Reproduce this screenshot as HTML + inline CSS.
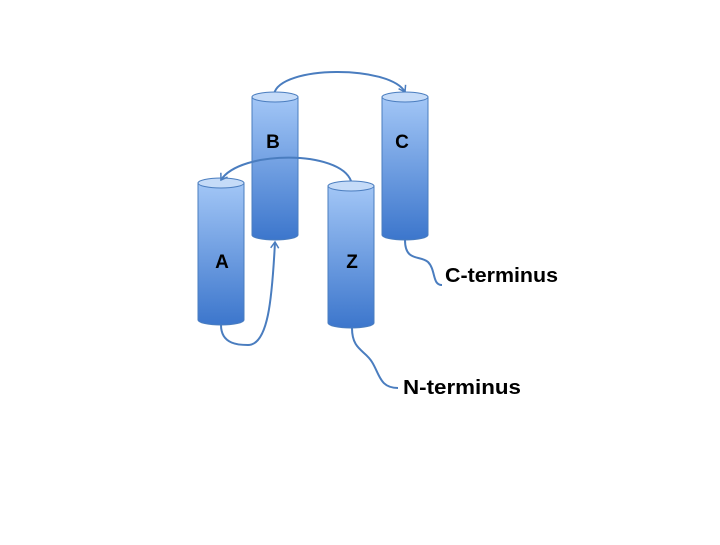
<!DOCTYPE html>
<html><head><style>body{margin:0;background:#fff}</style></head><body>
<svg width="720" height="540" xmlns="http://www.w3.org/2000/svg" font-family="Liberation Sans, sans-serif">
<defs>
<linearGradient id="g" x1="0" y1="0" x2="0" y2="1"><stop offset="0" stop-color="#a2c6f6"/><stop offset="1" stop-color="#3c76cc"/></linearGradient>
<marker id="ar" markerWidth="10" markerHeight="10" refX="8" refY="5" orient="auto" markerUnits="userSpaceOnUse"><path d="M2,1 L8,5 L2,9" fill="none" stroke="#4a7dbf" stroke-width="1.5"/></marker>
</defs>
<g fill="none" stroke="#4a7dbf" stroke-width="2">
<path d="M405,240 C405,262 420,255 428,262 C436,270 432,285 442,285"/>
<path d="M352,328 C352,350 365,350 372,362 C380,375 380,388 398,388"/>
<path d="M221,325 C221,345 240,345 248,345 C268,345 272,300 275,242" marker-end="url(#ar)"/>
<path d="M274,94 C280,65 390,65 405,92" marker-end="url(#ar)"/>
</g>
<g stroke="#4a7dbf" stroke-width="1">
<path d="M198,183 V320 A23,5 0 0 0 244,320 V183 Z" fill="url(#g)"/>
<ellipse cx="221" cy="183" rx="23" ry="5" fill="#c5dbf8"/>
<path d="M252,97 V235 A23,5 0 0 0 298,235 V97 Z" fill="url(#g)"/>
<ellipse cx="275" cy="97" rx="23" ry="5" fill="#c5dbf8"/>
<path d="M382,97 V235 A23,5 0 0 0 428,235 V97 Z" fill="url(#g)"/>
<ellipse cx="405" cy="97" rx="23" ry="5" fill="#c5dbf8"/>
<path d="M328,186 V323 A23,5 0 0 0 374,323 V186 Z" fill="url(#g)"/>
<ellipse cx="351" cy="186" rx="23" ry="5" fill="#c5dbf8"/>
</g>
<path d="M351,181 C340,150 240,150 221,180" fill="none" stroke="#4a7dbf" stroke-width="2" marker-end="url(#ar)"/>
<g font-weight="bold" font-size="19" fill="#000" text-anchor="middle">
<text x="273" y="148">B</text><text x="402" y="148">C</text>
<text x="222" y="268">A</text><text x="352" y="268">Z</text>
</g>
<g font-weight="bold" font-size="20" fill="#000">
<text x="445" y="282" textLength="113" lengthAdjust="spacingAndGlyphs">C-terminus</text>
<text x="403" y="394" textLength="118" lengthAdjust="spacingAndGlyphs">N-terminus</text>
</g>
</svg>
</body></html>
